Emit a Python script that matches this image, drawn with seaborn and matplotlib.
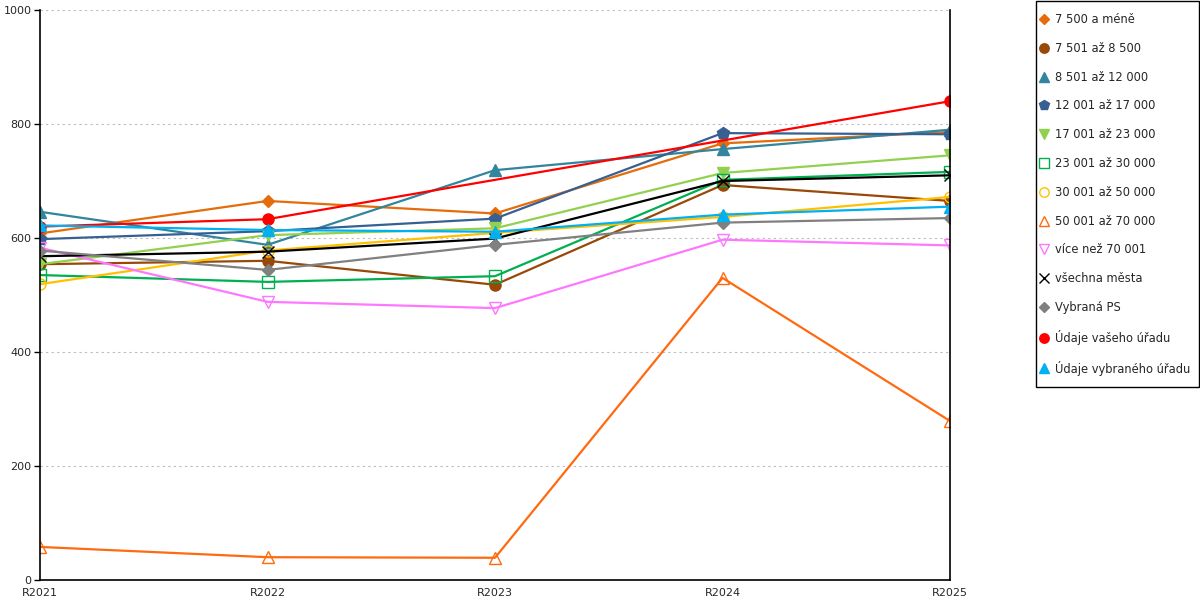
import numpy as np
import pandas as pd

import matplotlib
matplotlib.use("Agg")
import matplotlib.pyplot as plt
from matplotlib.lines import Line2D
from matplotlib.patches import Rectangle
import seaborn as sns


YEARS = ["R2021", "R2022", "R2023", "R2024", "R2025"]

LABELS = [
    "7 500 a méně",
    "7 501 až 8 500",
    "8 501 až 12 000",
    "12 001 až 17 000",
    "17 001 až 23 000",
    "23 001 až 30 000",
    "30 001 až 50 000",
    "50 001 až 70 000",
    "více než 70 001",
    "všechna města",
    "Vybraná PS",
    "Údaje vašeho úřadu",
    "Údaje vybraného úřadu",
]

VAL_7500 = [608, 665, 643, 766, 786]
VAL_8500 = [554, 560, 518, 693, 665]
VAL_12000 = [646, 588, 719, 756, 790]
VAL_17000 = [598, 612, 634, 784, 782]
VAL_23000 = [554, 605, 617, 714, 745]
VAL_30000 = [535, 523, 533, 702, 716]
VAL_50000 = [519, 578, 609, 637, 672]
VAL_70000 = [58, 40, 39, 530, 279]
VAL_NAD_70000 = [583, 488, 477, 597, 587]
VAL_VSECHNA = [568, 576, 599, 700, 710]
VAL_PS = [578, 544, 588, 627, 635]
VAL_VASE = [620, 633, np.nan, np.nan, 840]
VAL_VYBRANY = [622, 614, 611, 641, 655]

VALUES = [VAL_7500, VAL_8500, VAL_12000, VAL_17000, VAL_23000, VAL_30000,
          VAL_50000, VAL_70000, VAL_NAD_70000, VAL_VSECHNA, VAL_PS,
          VAL_VASE, VAL_VYBRANY]

# colour, marker, filled, marker size
STYLES = [
    ("#E46C0A", "D", True, 6),
    ("#984807", "o", True, 8),
    ("#31859C", "^", True, 8.5),
    ("#376092", "p", True, 9),
    ("#92D050", "v", True, 8.5),
    ("#00B050", "s", False, 8),
    ("#FFC000", "o", False, 8),
    ("#FF6A10", "^", False, 8.5),
    ("#FF77FF", "v", False, 8.5),
    ("#000000", "x", False, 8),
    ("#808080", "D", True, 6),
    ("#FF0000", "o", True, 8),
    ("#00B0F0", "^", True, 8.5),
]


def main() -> None:
    sns.set_style("white")
    plt.rcParams["font.family"] = ["DejaVu Sans"]

    fig = plt.figure(figsize=(12, 6), dpi=100)
    ax = fig.add_axes([40 / 1200, 20 / 600, 910 / 1200, 570 / 600])

    x_idx = np.arange(len(YEARS))
    for vals, (color, marker, filled, ms) in zip(VALUES, STYLES):
        d = pd.DataFrame({"x": x_idx, "y": vals}).dropna()
        sns.lineplot(
            data=d, x="x", y="y", ax=ax, color=color, linewidth=1.6,
            marker=marker, markersize=ms,
            markerfacecolor=color if filled else "none",
            markeredgecolor=color, markeredgewidth=1.0,
            legend=False,
        )

    ax.set_xlim(0, 4)
    ax.set_ylim(0, 1000)
    ax.set_xlabel("")
    ax.set_ylabel("")

    ax.set_xticks(x_idx)
    ax.set_xticklabels(YEARS, fontsize=8)
    ax.set_xticks([0.5, 1.5, 2.5, 3.5], minor=True)
    ax.tick_params(axis="x", which="major", length=0, pad=6)
    ax.tick_params(axis="x", which="minor", length=5, width=1, direction="out", color="black")

    ax.set_yticks(np.arange(0, 1001, 200))
    ax.set_yticklabels([str(v) for v in range(0, 1001, 200)], fontsize=8)
    ax.tick_params(axis="y", length=4, width=1, direction="out", color="black", pad=2, left=True)

    ax.yaxis.grid(True, linestyle=(0, (2, 3)), color="#bbbbbb", linewidth=0.8)
    ax.xaxis.grid(False)

    for side in ("left", "right", "bottom"):
        ax.spines[side].set_color("black")
        ax.spines[side].set_linewidth(1.2)
    ax.spines["top"].set_visible(False)

    handles = [
        Line2D([], [], linestyle="none", marker=marker, markersize=ms * 0.85,
               markerfacecolor=color if filled else "none",
               markeredgecolor=color, markeredgewidth=1.0)
        for (color, marker, filled, ms) in STYLES
    ]
    fig.legend(
        handles, LABELS, loc="upper left",
        bbox_to_anchor=(1039.5 / 1200, 1 - 13 / 600),
        fontsize=8.3, frameon=False,
        labelspacing=1.37, handlelength=0.8, handletextpad=0.55,
        borderpad=0.0, borderaxespad=0.0,
    )
    # legend box
    fig.add_artist(Rectangle(
        (1035.5 / 1200, 1 - 387 / 600), 163 / 1200, 386.5 / 600,
        transform=fig.transFigure, fill=False, edgecolor="black", linewidth=1.0,
    ))

    fig.savefig("out.png", dpi=100, facecolor="white")
    plt.close(fig)


if __name__ == "__main__":
    main()
